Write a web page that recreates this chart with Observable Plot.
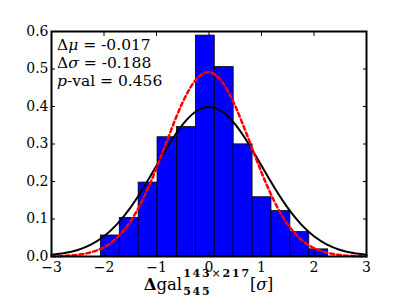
<!DOCTYPE html>
<html><head><meta charset="utf-8">
<script src="https://cdn.jsdelivr.net/npm/d3@7"></script>
<script src="https://cdn.jsdelivr.net/npm/@observablehq/plot@0.6"></script>
<style>body{margin:0;background:#fff} svg{display:block}</style>
</head><body><div id="chart"></div>
<script>
// Histogram bins (edges) and normalized heights
const binEdges = [-2.06, -1.70, -1.34, -0.98, -0.61, -0.25, 0.11, 0.47, 0.83, 1.19, 1.55, 1.91, 2.27];
const binHeights = [0.056, 0.103, 0.197, 0.318, 0.345, 0.589, 0.505, 0.299, 0.158, 0.121, 0.065, 0.019];
// Curves
const curveX = [-3, -2.75, -2.5, -2.25, -2, -1.75, -1.5, -1.25, -1, -0.75, -0.5, -0.25, 0, 0.25, 0.5, 0.75, 1, 1.25, 1.5, 1.75, 2, 2.25, 2.5, 2.75, 3];
const refPdf = [0.0044, 0.0091, 0.0175, 0.0317, 0.054, 0.0863, 0.1295, 0.1826, 0.242, 0.3011, 0.3521, 0.3867, 0.3989, 0.3867, 0.3521, 0.3011, 0.242, 0.1826, 0.1295, 0.0863, 0.054, 0.0317, 0.0175, 0.0091, 0.0044];
const fitPdf = [0.0006, 0.0017, 0.0046, 0.0112, 0.0249, 0.0504, 0.0927, 0.1551, 0.2361, 0.3269, 0.4117, 0.4715, 0.4912, 0.4655, 0.4011, 0.3145, 0.2242, 0.1454, 0.0858, 0.046, 0.0225, 0.01, 0.004, 0.0015, 0.0005];
const xTicks = [-3, -2, -1, 0, 1, 2, 3];
const yTicks = [0, 0.1, 0.2, 0.3, 0.4, 0.5, 0.6];
// Annotation
const statPrefix = ["Δ", "Δ", ""];
const statItalic = ["μ", "σ", "p"];
const statSuffix = ["", "", "-val"];
const statValues = ["-0.017", "-0.188", "0.456"];

const serif = "DejaVu Serif";
const bars = binHeights.map((h, i) => ({x1: binEdges[i], x2: binEdges[i + 1], y: h}));
const refData = curveX.map((x, i) => ({x, y: refPdf[i]}));
const fitData = curveX.map((x, i) => ({x, y: fitPdf[i]}));
const fmtX = d => d < 0 ? "\u2212" + Math.abs(d) : String(d);
const blank = () => "";

const plot = Plot.plot({
  width: 407, height: 307,
  marginLeft: 51, marginRight: 41, marginTop: 31, marginBottom: 51,
  style: {background: "white", color: "black"},
  x: {domain: [-3, 3]},
  y: {domain: [0, 0.6]},
  marks: [
    Plot.rectY(bars, {x1: "x1", x2: "x2", y: "y", fill: "#0000ff", stroke: "black", strokeWidth: 0.8}),
    Plot.line(refData, {x: "x", y: "y", stroke: "black", strokeWidth: 2, curve: "natural"}),
    Plot.line(fitData, {x: "x", y: "y", stroke: "#ff0000", strokeWidth: 2.5, strokeDasharray: "4,3", curve: "natural"}),
    Plot.axisX({ticks: xTicks, anchor: "bottom", tickSize: 0, tickPadding: 6, tickFormat: fmtX, label: null, fontSize: 14, fontFamily: serif}),
    Plot.axisX({ticks: xTicks, anchor: "bottom", tickSize: -4, tickFormat: blank, label: null}),
    Plot.axisX({ticks: xTicks, anchor: "top", tickSize: -4, tickFormat: blank, label: null}),
    Plot.axisY({ticks: yTicks, anchor: "left", tickSize: 0, tickPadding: 3, tickFormat: d3.format(".1f"), label: null, fontSize: 14, fontFamily: serif}),
    Plot.axisY({ticks: yTicks, anchor: "left", tickSize: -4, tickFormat: blank, label: null}),
    Plot.axisY({ticks: yTicks, anchor: "right", tickSize: -4, tickFormat: blank, label: null}),
    Plot.frame({stroke: "black", strokeWidth: 2})
  ]
});
document.getElementById("chart").append(plot);

const svg = d3.select(plot);
const sx = plot.scale("x"), sy = plot.scale("y");

// Stats annotation
const ann = svg.append("g").attr("font-family", serif).attr("font-size", 15.5).attr("fill", "black").attr("text-anchor", "start");
statValues.forEach((v, i) => {
  const t = ann.append("text").attr("x", sx.apply(-3) + 6).attr("y", sy.apply(0.6) + 19 + i * 18);
  if (statPrefix[i]) t.append("tspan").text(statPrefix[i]);
  t.append("tspan").attr("font-style", "italic").text(statItalic[i]);
  t.append("tspan").text(statSuffix[i] + " = " + v);
});

// X label: Δgal_{545}^{143×217}[σ]
const yb = sy.apply(0) + 34;
const lab = svg.append("g").attr("font-family", serif).attr("fill", "black").attr("text-anchor", "start");
const base = lab.append("text").attr("y", yb).attr("font-size", 16.5);
base.append("tspan").attr("font-weight", "bold").text("Δ");
base.append("tspan").text("gal");
const sup = lab.append("text").attr("y", yb - 13).attr("font-size", 11).attr("font-weight", "bold").attr("letter-spacing", 1.8);
sup.append("tspan").text("143");
sup.append("tspan").attr("font-weight", "normal").text("×");
sup.append("tspan").text("217");
const sub = lab.append("text").attr("y", yb + 5).attr("font-size", 11).attr("font-weight", "bold").attr("letter-spacing", 1.8).text("545");
const tail = lab.append("text").attr("y", yb).attr("font-size", 16);
tail.append("tspan").text("[");
tail.append("tspan").attr("font-style", "italic").text("σ");
tail.append("tspan").text("]");
const wA = base.node().getComputedTextLength();
const wS = Math.max(sup.node().getComputedTextLength(), sub.node().getComputedTextLength());
const wT = tail.node().getComputedTextLength();
const x0 = sx.apply(0) - (wA + wS + wT) / 2;
base.attr("x", x0);
sup.attr("x", x0 + wA + 1);
sub.attr("x", x0 + wA + 1);
tail.attr("x", x0 + wA + wS);
</script>
</body></html>
